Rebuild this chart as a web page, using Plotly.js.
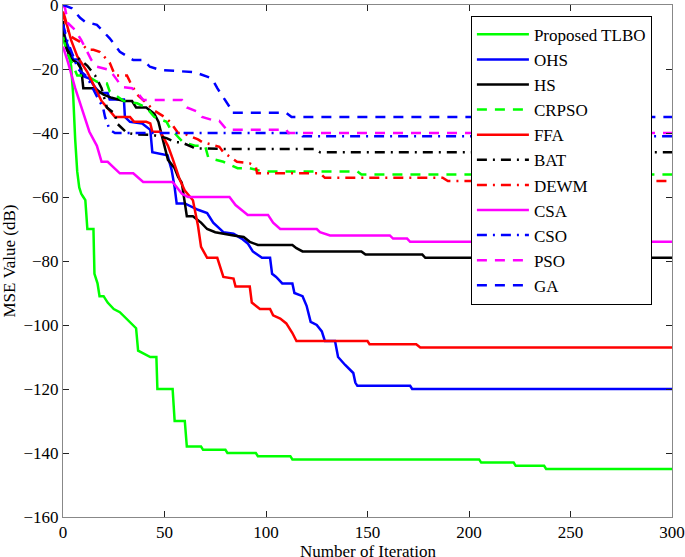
<!DOCTYPE html>
<html>
<head>
<meta charset="utf-8">
<script src="https://cdn.plot.ly/plotly-3.0.1.min.js"></script>
<style>html,body{margin:0;padding:0;background:#fff;}#chart{width:685px;height:557px;}</style>
</head>
<body>
<div id="chart"></div>
<script>
// ---- Data ----
const seriesNames = ['Proposed TLBO','OHS','HS','CRPSO','FFA','BAT','DEWM','CSA','CSO','PSO','GA'];

const tlboX = [0,2,4,5,6,7,8,9,10,11,12,15,15.5,17,18,20,22,25,28,31,34,36,37,40,43,46,46.5,54,55,60,61,68,69,80,81,95,96,112,113,205,206,222,223,237,238,300];
const tlboY = [-10,-13,-19,-28,-42,-52,-57,-59,-60,-61,-70,-70,-84,-87,-91,-91,-93,-95,-96,-98,-100,-101,-108,-109,-110,-110,-120,-120,-130,-130,-138,-138,-139,-139,-140,-140,-141,-141,-142,-142,-143,-143,-144,-144,-145,-145];

const ohsX = [0,2,5,8,9,13,15,18,22,23,30,30.5,33,39,43,44,51.5,53.5,55,56,60,63,66.5,71,74,79,84,88,91,93.5,98,102,103,105,108,113,114,118,120,122,125,127.5,129,134,135.5,139,143,144,145,171,172,300];
const ohsY = [-8,-12,-17,-17,-22,-23,-25,-27.5,-27.5,-29.5,-29.5,-35,-36.5,-37,-39,-46,-47,-51.5,-57,-62,-62,-63,-64,-65,-68,-71,-71.5,-73,-74.5,-77,-79,-79,-84,-85,-87,-87,-90,-91,-94,-99,-100,-102,-105,-105,-110,-112.5,-115,-118,-119,-119,-120,-120];

const hsX = [0,1,2,4,7,9,10,15,16.7,20,24,30,34,36,38,41,45,47,48.6,50,51.7,55,56.7,58.5,60,61,64,66,68,71,75,84,89,92,96,113,115,118,147,149,177,178.5,300];
const hsY = [-5,-12,-14,-17,-18,-20,-26,-26,-26.5,-28,-29,-30,-30,-32,-32,-32,-34,-36.5,-40.6,-44,-48.4,-51,-53.7,-55.5,-61,-66,-66,-67,-68,-70,-71,-72,-72.5,-74,-75,-75,-76,-77,-77,-78,-78,-79,-79];

const crpsoX = [0,2,5,7,11.6,16.7,18,21.6,23,26.6,30,36.5,41,45,51,52.7,55,57.6,59,65,70,71.5,73,79,86,92,98.5,145,147,300];
const crpsoY = [-10,-15,-19,-22,-22,-24,-24,-24.5,-27,-28.6,-30,-30.7,-32,-35,-36.5,-38.5,-40,-41.6,-42.8,-44,-44,-47.5,-48,-49,-51,-51,-52,-52,-53,-53];

const ffaX = [0,1,4,7,12,16,19,23,25.6,33,35,41,43,44,48,50,51.7,54,56,57.6,60,64,66.5,68,71,76,79,84,85,92,93,97,102,103.5,107,110,113,115,150,151,174,176,300];
const ffaY = [-2,-4,-11,-16,-21,-26,-30,-33,-35,-35,-36.5,-36.5,-37,-39.6,-39.6,-42,-44,-48,-51.6,-54.7,-58,-61,-69,-75.6,-79,-79,-85,-85.5,-88,-88,-93,-95,-95,-97,-98,-99.5,-102.5,-105,-105,-106,-106,-107,-107];

const batX = [0,2,5,8.4,12,15.8,19,21.6,25.6,26.6,31.5,36.5,44,51,55,58.6,63.5,65,82,124,126.6,300];
const batY = [-6,-14,-16,-17,-19,-22,-26,-32,-34,-37,-40,-40.5,-40.6,-41.6,-42.8,-43,-44.3,-44.8,-45,-45,-46,-46];

const dewmX = [0,3,5,8.4,12,15,18,23,25.6,31.5,33,36.5,40,45,50,52.7,56.7,59,66.5,68.5,77,79,85.7,92,95,95.6,126.6,129,187,189.6,300];
const dewmY = [-3,-9,-10.3,-11.5,-14,-14,-14.6,-18,-22,-22,-24,-28,-30,-33,-35,-36.5,-40,-40,-42,-42.8,-44.3,-46,-49,-49.5,-50.6,-52.6,-52.6,-54,-54,-55,-55];

const csaX = [0,2.5,6,10,13,16.7,19,22,25.6,28,34.6,36.5,39.5,54,56,58.6,61.6,82,85,91,101,103.5,107,125,126.6,131.5,161,162.6,169.5,171,300];
const csaY = [-13,-18,-26,-34,-39.6,-44,-49,-49,-51,-52.6,-52.6,-53.6,-55.3,-55.3,-57,-59,-60,-60,-62.5,-65.6,-65.6,-68,-70,-70,-71,-72,-72,-73,-73,-74,-74];

const csoX = [0,2,7.4,11.8,16.7,19.7,20.7,23,25.6,116.7,118,300];
const csoY = [-6,-11,-20,-22.4,-28.6,-32,-35,-39,-40,-40,-41,-41];

const psoX = [0,1,2.5,6,9,14,16.7,23,26.6,29,34,37,39.5,58.6,61,66.5,68.5,74,77,80.7,110,111,300];
const psoY = [0,-1,-5.7,-7.8,-11,-17.2,-19.3,-20.3,-23.4,-25.6,-26,-27.6,-29.7,-29.7,-32,-33.4,-35,-36,-36.2,-39,-39,-40,-40];

const gaX = [0,2,4.4,8.4,10.8,16.7,19.7,23,28,34.6,39.5,42.8,47.8,61.6,65,71,73.4,76,78,82,83,110,112.6,300];
const gaY = [0,-0.5,-1,-4,-5.2,-6.2,-8.3,-10.4,-14.6,-17.2,-17.2,-19.3,-20.3,-21,-21,-22.4,-23,-26,-28,-31.8,-33.7,-33.7,-35,-35];

const xTicks = [0,50,100,150,200,250,300];
const yTicks = [-160,-140,-120,-100,-80,-60,-40,-20,0];
const xTitle = 'Number of Iteration';
const yTitle = 'MSE Value (dB)';

// ---- Styles ----
const DASH = '10px,8px';
const DASHDOT = '10px,6px,2px,6px';
const W = 2.5;

const styles = [
  {color:'#00ff00', dash:'solid'},
  {color:'#0000ff', dash:'solid'},
  {color:'#000000', dash:'solid'},
  {color:'#00ff00', dash:DASH},
  {color:'#ff0000', dash:'solid'},
  {color:'#000000', dash:DASHDOT},
  {color:'#ff0000', dash:DASHDOT},
  {color:'#ff00ff', dash:'solid'},
  {color:'#0000ff', dash:DASHDOT},
  {color:'#ff00ff', dash:DASH},
  {color:'#0000ff', dash:DASH}
];
const xs = [tlboX,ohsX,hsX,crpsoX,ffaX,batX,dewmX,csaX,csoX,psoX,gaX];
const ys = [tlboY,ohsY,hsY,crpsoY,ffaY,batY,dewmY,csaY,csoY,psoY,gaY];

const traces = seriesNames.map((n,i)=>({
  type:'scatter', mode:'lines', name:n, x:xs[i], y:ys[i],
  line:{color:styles[i].color, dash:styles[i].dash, width:W},
  hoverinfo:'skip'
}));

const font = {family:'Liberation Serif, Times New Roman, serif', size:17, color:'#000'};
const axisCommon = {
  showline:true, linecolor:'#888', linewidth:1, mirror:'ticks',
  ticks:'inside', ticklen:6, tickcolor:'#222', tickwidth:1,
  showgrid:false, zeroline:false, automargin:false,
  ticklabeloverflow:'allow',
  tickfont:font
};

const layout = {
  width:685, height:557,
  margin:{l:63, r:13, t:5, b:40},
  paper_bgcolor:'#fff', plot_bgcolor:'#fff',
  font:font,
  showlegend:true,
  xaxis:Object.assign({}, axisCommon, {
    range:[0,300], tickmode:'array', tickvals:xTicks
  }),
  yaxis:Object.assign({}, axisCommon, {
    range:[-160,0], tickmode:'array', tickvals:yTicks,
    title:{text:yTitle, font:font, standoff:6}
  }),
  annotations:[{
    text:xTitle, xref:'paper', yref:'paper', x:0.5, y:0,
    xanchor:'center', yanchor:'top', yshift:-23, showarrow:false, font:font
  }],
  legend:{
    x:0.967, xanchor:'right', y:0.979, yanchor:'top',
    bgcolor:'#fff', bordercolor:'#000', borderwidth:1,
    font:font, tracegroupgap:0, itemwidth:52
  }
};

Plotly.newPlot('chart', traces, layout, {staticPlot:true, displayModeBar:false});
</script>
</body>
</html>
